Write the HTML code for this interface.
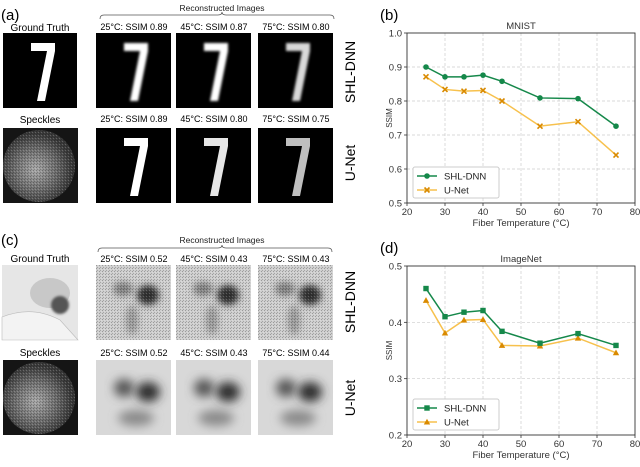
<!DOCTYPE html>
<html><head><meta charset="utf-8">
<style>
body{margin:0;background:#fff;font-family:"Liberation Sans",Arial,sans-serif;}
svg text{font-family:"Liberation Sans",Arial,sans-serif;}
</style></head>
<body>
<svg id="fig" width="640" height="462" viewBox="0 0 640 462" xmlns="http://www.w3.org/2000/svg">
<defs>
  <filter id="blur1" x="-20%" y="-20%" width="140%" height="140%"><feGaussianBlur stdDeviation="1.2"/></filter>
  <filter id="blur2" x="-50%" y="-50%" width="200%" height="200%"><feGaussianBlur stdDeviation="3.5"/></filter>
  <filter id="blur4" x="-50%" y="-50%" width="200%" height="200%"><feGaussianBlur stdDeviation="5"/></filter>
  <radialGradient id="speck" cx="0.45" cy="0.55" r="0.5">
    <stop offset="0" stop-color="#a8a8a8"/><stop offset="0.6" stop-color="#6a6a6a"/><stop offset="1" stop-color="#3a3a3a"/>
  </radialGradient>
  <pattern id="noise" width="3" height="3" patternUnits="userSpaceOnUse">
    <rect x="0" y="0" width="1" height="1" fill="#000" opacity="0.25"/><rect x="2" y="1" width="1" height="1" fill="#fff" opacity="0.2"/><rect x="1" y="2" width="1" height="1" fill="#000" opacity="0.2"/>
  </pattern>
  <g id="seven">
    <path d="M28 10 L52 10 L52 18 L42 68 L34 68 L44 18 L28 18 Z" fill="#fff"/>
  </g>
  <g id="dogrecon">
    <rect width="75" height="75" fill="#cfcfcf"/>
    <ellipse cx="27" cy="24" rx="10" ry="7" fill="#808080" filter="url(#blur2)"/>
    <ellipse cx="52" cy="30" rx="11" ry="10" fill="#333" filter="url(#blur2)"/>
    <ellipse cx="36" cy="55" rx="6" ry="15" fill="#999" filter="url(#blur2)"/>
    <rect width="75" height="75" fill="url(#noise)"/>
  </g>
  <g id="dogunet">
    <rect width="75" height="75" fill="#d8d8d8"/>
    <ellipse cx="28" cy="28" rx="10" ry="9" fill="#555" filter="url(#blur4)"/>
    <ellipse cx="52" cy="32" rx="12" ry="10" fill="#2e2e2e" filter="url(#blur4)"/>
    <ellipse cx="40" cy="58" rx="18" ry="8" fill="#8a8a8a" filter="url(#blur4)"/>
  </g>
  <g id="speckimg">
    <rect width="75" height="75" fill="#151515"/>
    <circle cx="36" cy="38" r="36" fill="url(#speck)"/>
    <circle cx="36" cy="38" r="36" fill="url(#noise)"/>
  </g>
</defs>

<g>
  <text x="1" y="20" font-size="15">(a)</text>
  <text x="222" y="11" font-size="8.5" text-anchor="middle" fill="#222">Reconstructed Images</text>
  <path d="M100 19 Q100 15 104 15 L218 15 Q222 15 222 12 Q222 15 226 15 L330 15 Q334 15 334 19" fill="none" stroke="#555" stroke-width="0.8"/>
  <text x="40" y="31" font-size="10" text-anchor="middle">Ground Truth</text>
  <text x="134" y="30" font-size="9" text-anchor="middle">25°C: SSIM 0.89</text>
  <text x="214" y="30" font-size="9" text-anchor="middle">45°C: SSIM 0.87</text>
  <text x="296" y="30" font-size="9" text-anchor="middle">75°C: SSIM 0.80</text>
  <g transform="translate(3,33)"><rect width="74" height="75" fill="#000"/><use href="#seven"/></g>
  <g transform="translate(96,33)"><rect width="75" height="75" fill="#000"/><use href="#seven" filter="url(#blur1)"/></g>
  <g transform="translate(176,33)"><rect width="75" height="75" fill="#000"/><use href="#seven" filter="url(#blur1)"/></g>
  <g transform="translate(258,33)"><rect width="75" height="75" fill="#000"/><use href="#seven" filter="url(#blur1)" opacity="0.85"/></g>
  <text x="355" y="72" font-size="14" text-anchor="middle" transform="rotate(-90 355 72)">SHL-DNN</text>
  <text x="40" y="123" font-size="10" text-anchor="middle">Speckles</text>
  <text x="134" y="122" font-size="9" text-anchor="middle">25°C: SSIM 0.89</text>
  <text x="214" y="122" font-size="9" text-anchor="middle">45°C: SSIM 0.80</text>
  <text x="296" y="122" font-size="9" text-anchor="middle">75°C: SSIM 0.75</text>
  <g transform="translate(3,128)"><use href="#speckimg"/></g>
  <g transform="translate(96,128)"><rect width="75" height="75" fill="#000"/><use href="#seven"/></g>
  <g transform="translate(176,128)"><rect width="75" height="75" fill="#000"/><use href="#seven" opacity="0.9"/></g>
  <g transform="translate(258,128)"><rect width="75" height="75" fill="#000"/><use href="#seven" opacity="0.75"/></g>
  <text x="355" y="163" font-size="14" text-anchor="middle" transform="rotate(-90 355 163)">U-Net</text>
</g>

<g>
  <text x="1" y="245" font-size="15">(c)</text>
  <text x="222" y="243" font-size="8.5" text-anchor="middle" fill="#222">Reconstructed Images</text>
  <path d="M98 252 Q98 248 102 248 L218 248 Q222 248 222 245 Q222 248 226 248 L328 248 Q332 248 332 252" fill="none" stroke="#555" stroke-width="0.8"/>
  <text x="40" y="262" font-size="10" text-anchor="middle">Ground Truth</text>
  <text x="134" y="262" font-size="9" text-anchor="middle">25°C: SSIM 0.52</text>
  <text x="214" y="262" font-size="9" text-anchor="middle">45°C: SSIM 0.43</text>
  <text x="296" y="262" font-size="9" text-anchor="middle">75°C: SSIM 0.43</text>
  <g transform="translate(2,265)">
    <rect width="76" height="75" fill="#e6e6e6"/>
    <ellipse cx="48" cy="28" rx="20" ry="15" fill="#c8c8c8"/>
    <ellipse cx="58" cy="40" rx="9" ry="9" fill="#555" filter="url(#blur1)"/>
    <path d="M0 52 Q30 40 58 55 L76 75 L0 75 Z" fill="#f3f3f3" stroke="#bbb" stroke-width="0.6"/>
  </g>
  <g transform="translate(96,265)"><use href="#dogrecon"/></g>
  <g transform="translate(176,265)"><use href="#dogrecon"/></g>
  <g transform="translate(258,265)"><use href="#dogrecon"/></g>
  <text x="355" y="302" font-size="14" text-anchor="middle" transform="rotate(-90 355 302)">SHL-DNN</text>
  <text x="40" y="356" font-size="10" text-anchor="middle">Speckles</text>
  <text x="134" y="356" font-size="9" text-anchor="middle">25°C: SSIM 0.52</text>
  <text x="214" y="356" font-size="9" text-anchor="middle">45°C: SSIM 0.43</text>
  <text x="296" y="356" font-size="9" text-anchor="middle">75°C: SSIM 0.44</text>
  <g transform="translate(3,360)"><use href="#speckimg"/></g>
  <g transform="translate(96,360)"><use href="#dogunet"/></g>
  <g transform="translate(176,360)"><use href="#dogunet"/></g>
  <g transform="translate(258,360)"><use href="#dogunet"/></g>
  <text x="355" y="398" font-size="14" text-anchor="middle" transform="rotate(-90 355 398)">U-Net</text>
</g>

<g id="chartB"></g>
<g id="chartD"></g>
</svg>
<script>
const temps = [25, 30, 35, 40, 45, 55, 65, 75];
const xTicks = [20, 30, 40, 50, 60, 70, 80];
const mnistShl = [0.900, 0.871, 0.871, 0.876, 0.858, 0.809, 0.807, 0.726];
const mnistUnet = [0.871, 0.834, 0.829, 0.831, 0.800, 0.726, 0.739, 0.641];
const mnistTicks = [0.5, 0.6, 0.7, 0.8, 0.9, 1.0];
const imgShl = [0.460, 0.410, 0.418, 0.421, 0.384, 0.363, 0.380, 0.359];
const imgUnet = [0.439, 0.381, 0.404, 0.405, 0.359, 0.358, 0.372, 0.346];
const imgTicks = [0.2, 0.3, 0.4, 0.5];

const NS = 'http://www.w3.org/2000/svg';
const GREEN = '#15884a', ORANGE_L = '#f7c14d', ORANGE_M = '#d98a00';
function mk(parent, tag, attrs, text) {
  const e = document.createElementNS(NS, tag);
  for (const k in attrs) e.setAttribute(k, attrs[k]);
  if (text !== undefined) e.textContent = text;
  parent.appendChild(e);
  return e;
}
function chart(gid, panel, title, top, bottom, yMin, yMax, yTicks, s1, s2, mark1, mark2) {
  const g = document.getElementById(gid);
  const L = 407, R = 635;
  const xS = v => L + (v - 20) / 60 * (R - L);
  const yS = v => bottom - (v - yMin) / (yMax - yMin) * (bottom - top);
  let t;
  t = mk(g, 'text', {x: 380, y: top - 13, 'font-size': 15});
  t.textContent = panel;
  
  
  t = mk(g, 'text', {x: (L + R) / 2, y: top - 4, 'font-size': 9.5, 'text-anchor': 'middle', fill: '#333'}, title);
  
  
  xTicks.forEach(v => {
    const x = xS(v);
    if (v > 20 && v < 80) {
      const l = mk(g, 'line', {x1: x, x2: x, y1: top, y2: bottom, stroke: '#ccc', 'stroke-dasharray': '3,2', 'stroke-width': 0.7});
      
      
    }
    mk(g, 'line', {x1: x, x2: x, y1: bottom, y2: bottom + 3, stroke: '#333', 'stroke-width': 0.8});
    const tx = mk(g, 'text', {x: x, y: bottom + 12, 'font-size': 9.5, 'text-anchor': 'middle', fill: '#333'}, v);
    
    
  });
  yTicks.forEach(v => {
    const y = yS(v);
    if (v > yMin && v < yMax) {
      const l = mk(g, 'line', {x1: L, x2: R, y1: y, y2: y, stroke: '#ccc', 'stroke-dasharray': '3,2', 'stroke-width': 0.7});
      
      
    }
    mk(g, 'line', {x1: L - 3, x2: L, y1: y, y2: y, stroke: '#333', 'stroke-width': 0.8});
    const ty = mk(g, 'text', {x: L - 5, y: y + 3.5, 'font-size': 9.5, 'text-anchor': 'end', fill: '#333'}, v.toFixed(1));
    
    
  });
  const fr = mk(g, 'rect', {x: L, y: top, width: R - L, height: bottom - top, fill: 'none', stroke: '#333', 'stroke-width': 0.9});
  
  
  t = mk(g, 'text', {x: (L + R) / 2, y: bottom + 23, 'font-size': 9.5, 'text-anchor': 'middle', fill: '#333'}, 'Fiber Temperature (°C)');
  
  
  const cy = (top + bottom) / 2;
  t = mk(g, 'text', {x: 392, y: cy, 'font-size': 8, 'text-anchor': 'middle', fill: '#333', transform: `rotate(-90 392 ${cy})`}, 'SSIM');
  
  
  function marker(parent, kind, x, y, color) {
    let m;
    if (kind === 'circle') m = mk(parent, 'circle', {cx: x, cy: y, r: 2.8, fill: color});
    else if (kind === 'square') m = mk(parent, 'rect', {x: x - 2.7, y: y - 2.7, width: 5.4, height: 5.4, fill: color});
    else if (kind === 'tri') m = mk(parent, 'path', {d: `M${x} ${y - 3.3} L${x + 3.2} ${y + 2.5} L${x - 3.2} ${y + 2.5}Z`, fill: color});
    else m = mk(parent, 'path', {d: `M${x - 2.5} ${y - 2.5} L${x + 2.5} ${y + 2.5} M${x + 2.5} ${y - 2.5} L${x - 2.5} ${y + 2.5}`, stroke: color, 'stroke-width': 1.6});
    return m;
  }
  function series(vals, lc, mc, kind, name) {
    const sg = mk(g, 'g', {});
    
    
    const pl = mk(sg, 'polyline', {points: vals.map((v, i) => xS(temps[i]) + ',' + yS(v)).join(' '), fill: 'none', stroke: lc, 'stroke-width': 1.5});
    
    
    vals.forEach((v, i) => {
      const m = marker(sg, kind, xS(temps[i]), yS(v), mc);
      
      
    });
  }
  series(s2, ORANGE_L, ORANGE_M, mark2, 'unet-series');
  series(s1, GREEN, GREEN, mark1, 'shl-dnn-series');
  const lg = mk(g, 'g', {});
  
  
  const lb = bottom - 36;
  mk(lg, 'rect', {x: L + 6, y: lb, width: 86, height: 31, fill: '#fff', stroke: '#ccc', rx: 2});
  [['SHL-DNN', GREEN, GREEN, mark1], ['U-Net', ORANGE_L, ORANGE_M, mark2]].forEach((e, i) => {
    const yy = lb + 9 + i * 14;
    const eg = mk(lg, 'g', {});
    
    
    mk(eg, 'line', {x1: L + 10, x2: L + 30, y1: yy, y2: yy, stroke: e[1], 'stroke-width': 1.5});
    marker(eg, e[3], L + 20, yy, e[2]);
    mk(eg, 'text', {x: L + 37, y: yy + 3.5, 'font-size': 9.5, fill: '#222'}, e[0]);
  });
}
chart('chartB', '(b)', 'MNIST', 33, 203, 0.5, 1.0, mnistTicks, mnistShl, mnistUnet, 'circle', 'x');
chart('chartD', '(d)', 'ImageNet', 266, 435, 0.2, 0.5, imgTicks, imgShl, imgUnet, 'square', 'tri');
</script>
</body></html>
